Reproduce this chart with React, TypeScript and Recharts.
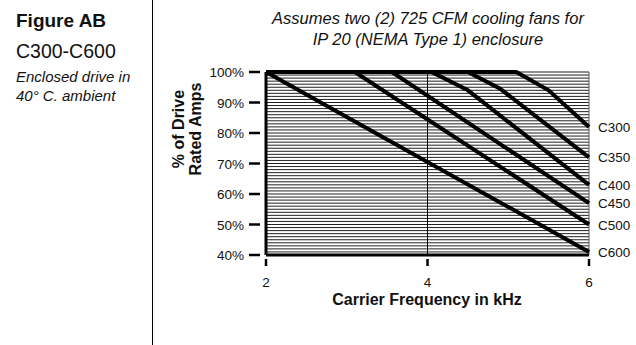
import React from 'react';
import { LineChart, Line, XAxis, YAxis, ReferenceLine } from 'recharts';

// [kHz, % of rated amps]
const C300 = [[2, 100], [5.1, 100], [5.5, 94], [6, 82]];
const C350 = [[2, 100], [4.5, 100], [4.9, 94.5], [6, 72]];
const C400 = [[2, 100], [4.05, 100], [4.5, 94], [6, 63]];
const C450 = [[2, 100], [3.56, 100], [6, 57]];
const C500 = [[2, 100], [3.1, 100], [6, 50]];
const C600 = [[2, 100], [6, 41]];

const seriesNames = ['C300', 'C350', 'C400', 'C450', 'C500', 'C600'];
const seriesPoints = [C300, C350, C400, C450, C500, C600];

const xTicks = [2, 4, 6];
const yTicks = [40, 50, 60, 70, 80, 90, 100];
const hatchLines = [
  41, 42, 43, 44, 45, 46, 47, 48, 49, 50, 51, 52, 53, 54, 55, 56, 57, 58, 59, 60,
  61, 62, 63, 64, 65, 66, 67, 68, 69, 70, 71, 72, 73, 74, 75, 76, 77, 78, 79, 80,
  81, 82, 83, 84, 85, 86, 87, 88, 89, 90, 91, 92, 93, 94, 95, 96, 97, 98, 99, 100,
];

const FONT = '"Liberation Sans", Arial, Helvetica, sans-serif';

const YTick = ({ x, y, payload }: any) => (
  <g>
    <line x1={x - 17} x2={x - 6} y1={y} y2={y} stroke="#000" strokeWidth={2.5} />
    <text x={x - 22} y={y + 5} textAnchor="end" fontSize={13.5} fill="#111" fontFamily={FONT}>
      {payload.value}%
    </text>
  </g>
);

const XTick = ({ x, y, payload }: any) => (
  <g>
    <line x1={x} x2={x} y1={y + 4} y2={y + 11} stroke="#000" strokeWidth={2.5} />
    <text x={x} y={y + 32} textAnchor="middle" fontSize={13.5} fill="#111" fontFamily={FONT}>
      {payload.value}
    </text>
  </g>
);

const endLabel = (name: string, last: number) => (p: any) =>
  p.index === last ? (
    <text x={p.x + 9} y={p.y + 5} fontSize={13.5} fill="#111" fontFamily={FONT}>
      {name}
    </text>
  ) : (
    <g />
  );

export default function App() {
  return (
    <div
      style={{
        position: 'absolute',
        left: 0,
        top: 0,
        width: 636,
        height: 345,
        background: '#fff',
        fontFamily: FONT,
      }}
    >
      <LineChart
        width={636}
        height={345}
        margin={{ top: 72, right: 47, bottom: 60, left: 206 }}
      >
        {hatchLines.map((v) => (
          <ReferenceLine key={v} y={v} stroke="#222" strokeWidth={1} />
        ))}
        <ReferenceLine x={4} stroke="#000" strokeWidth={1} />
        <ReferenceLine x={6} stroke="#555" strokeWidth={1} />
        <XAxis
          type="number"
          dataKey="x"
          domain={[2, 6]}
          ticks={xTicks}
          height={30}
          tickSize={0}
          tickMargin={0}
          tick={<XTick />}
          axisLine={{ stroke: '#000', strokeWidth: 3 }}
          tickLine={false}
          allowDuplicatedCategory={false}
        />
        <YAxis
          type="number"
          dataKey="y"
          domain={[40, 100]}
          ticks={yTicks}
          width={60}
          tickSize={0}
          tickMargin={0}
          tick={<YTick />}
          axisLine={{ stroke: '#000', strokeWidth: 3 }}
          tickLine={false}
        />
        {seriesPoints.map((pts, i) => (
          <Line
            key={seriesNames[i]}
            data={pts.map(([x, y]) => ({ x, y }))}
            dataKey="y"
            type="linear"
            stroke="#000"
            strokeWidth={4}
            dot={false}
            isAnimationActive={false}
            label={endLabel(seriesNames[i], pts.length - 1)}
          />
        ))}
      </LineChart>

      <svg
        width={636}
        height={345}
        style={{ position: 'absolute', left: 0, top: 0, pointerEvents: 'none' }}
        fontFamily={FONT}
      >
        <line x1={152.5} x2={152.5} y1={0} y2={345} stroke="#000" strokeWidth={1} />
        <text x={16} y={27} fontSize={19} fontWeight="bold" fill="#111">Figure AB</text>
        <text x={16} y={58} fontSize={19.5} fill="#111">C300-C600</text>
        <text x={16} y={82} fontSize={15} fontStyle="italic" fill="#111">Enclosed drive in</text>
        <text x={16} y={101} fontSize={15} fontStyle="italic" fill="#111">40° C. ambient</text>

        <text x={428} y={24} fontSize={16.5} fontStyle="italic" textAnchor="middle" fill="#111">
          Assumes two (2) 725 CFM cooling fans for
        </text>
        <text x={428} y={45} fontSize={16.5} fontStyle="italic" textAnchor="middle" fill="#111">
          IP 20 (NEMA Type 1) enclosure
        </text>

        <text
          x={184}
          y={129}
          fontSize={16}
          fontWeight="bold"
          textAnchor="middle"
          transform="rotate(-90 184 129)"
          fill="#111"
        >
          % of Drive
        </text>
        <text
          x={201}
          y={129}
          fontSize={16}
          fontWeight="bold"
          textAnchor="middle"
          transform="rotate(-90 201 129)"
          fill="#111"
        >
          Rated Amps
        </text>
        <text x={427} y={305} fontSize={16} fontWeight="bold" textAnchor="middle" fill="#111">
          Carrier Frequency in kHz
        </text>
      </svg>
    </div>
  );
}
